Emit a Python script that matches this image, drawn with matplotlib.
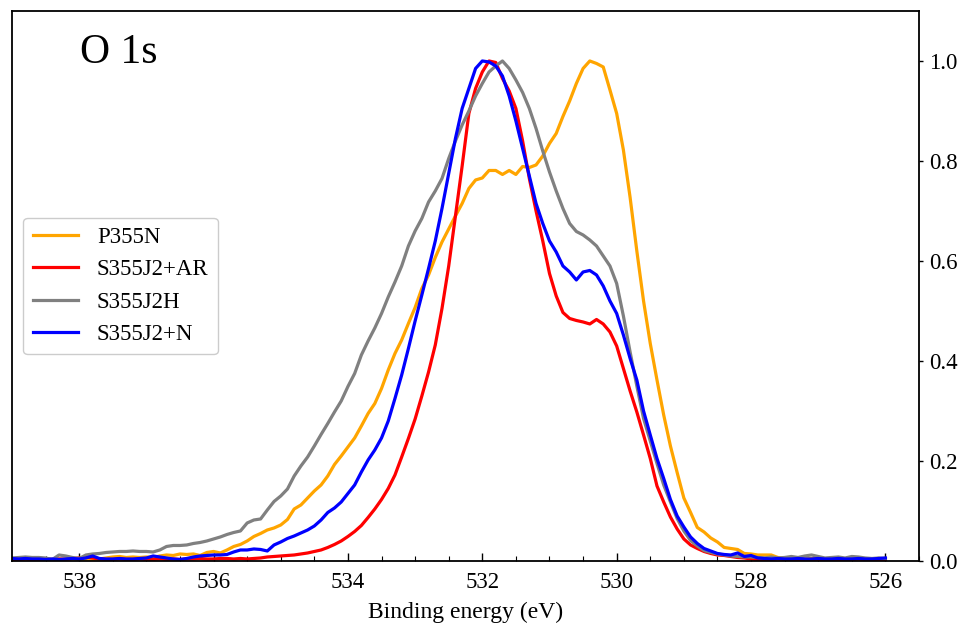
import numpy as np
import matplotlib
matplotlib.use("Agg")
import matplotlib.pyplot as plt
from matplotlib.ticker import MultipleLocator

plt.rcParams['font.family'] = ['Liberation Serif', 'DejaVu Serif']

# Binding energy grid (eV), 0.1 eV steps from 539.0 down to 526.0
energy = np.round(np.linspace(539.0, 526.0, 131), 1)

p355n = [
    0.003,0.003,0.004,0.003,0.003,0.004,0.003,0.003,0.004,0.004,
    0.003,0.003,0.003,0.004,0.006,0.008,0.009,0.007,0.008,0.007,
    0.008,0.007,0.010,0.012,0.011,0.014,0.013,0.014,0.011,0.017,
    0.019,0.016,0.022,0.029,0.033,0.040,0.049,0.055,0.062,0.066,
    0.072,0.083,0.104,0.112,0.126,0.140,0.152,0.170,0.193,0.210,
    0.228,0.246,0.270,0.295,0.315,0.345,0.382,0.415,0.442,0.475,
    0.507,0.545,0.572,0.607,0.638,0.664,0.690,0.715,0.745,0.762,
    0.766,0.781,0.781,0.773,0.781,0.773,0.789,0.787,0.792,0.810,
    0.835,0.855,0.889,0.920,0.955,0.985,1.000,0.995,0.988,0.942,
    0.895,0.822,0.727,0.620,0.520,0.435,0.362,0.292,0.230,0.177,
    0.126,0.097,0.067,0.058,0.046,0.038,0.027,0.025,0.023,0.015,
    0.014,0.012,0.012,0.012,0.007,0.006,0.005,0.005,0.004,0.005,
    0.004,0.004,0.005,0.004,0.004,0.005,0.004,0.004,0.004,0.005,
    0.004,
]

s355j2_ar = [
    0.003,0.003,0.004,0.003,0.002,0.003,0.003,0.004,0.003,0.005,
    0.006,0.008,0.006,0.004,0.003,0.003,0.004,0.003,0.003,0.004,
    0.003,0.003,0.004,0.003,0.004,0.003,0.004,0.004,0.005,0.004,
    0.004,0.005,0.005,0.004,0.005,0.004,0.005,0.006,0.008,0.009,
    0.010,0.011,0.012,0.014,0.016,0.019,0.022,0.027,0.033,0.040,
    0.049,0.059,0.071,0.087,0.104,0.123,0.145,0.172,0.208,0.245,
    0.284,0.330,0.378,0.432,0.505,0.590,0.690,0.790,0.895,0.945,
    0.978,1.000,0.997,0.965,0.940,0.905,0.840,0.765,0.700,0.640,
    0.575,0.530,0.497,0.485,0.481,0.478,0.474,0.483,0.474,0.458,
    0.430,0.385,0.340,0.298,0.252,0.205,0.150,0.118,0.088,0.064,
    0.044,0.032,0.025,0.019,0.015,0.012,0.011,0.009,0.007,0.006,
    0.004,0.003,0.003,0.003,0.004,0.003,0.003,0.003,0.002,0.003,
    0.003,0.003,0.002,0.003,0.003,0.003,0.004,0.003,0.003,0.003,
    0.003,
]

s355j2h = [
    0.006,0.007,0.008,0.007,0.007,0.006,0.003,0.012,0.010,0.007,
    0.005,0.012,0.014,0.015,0.017,0.018,0.019,0.019,0.020,0.019,
    0.019,0.018,0.022,0.029,0.031,0.031,0.032,0.035,0.037,0.040,
    0.044,0.048,0.053,0.057,0.060,0.076,0.082,0.084,0.102,0.119,
    0.130,0.144,0.170,0.190,0.208,0.230,0.253,0.275,0.298,0.320,
    0.349,0.375,0.412,0.440,0.466,0.495,0.528,0.558,0.590,0.630,
    0.660,0.685,0.718,0.740,0.765,0.805,0.840,0.872,0.900,0.930,
    0.955,0.978,0.990,1.000,0.985,0.962,0.937,0.905,0.865,0.820,
    0.778,0.740,0.705,0.675,0.659,0.652,0.642,0.630,0.610,0.590,
    0.555,0.490,0.418,0.350,0.285,0.240,0.195,0.152,0.118,0.085,
    0.060,0.041,0.030,0.021,0.017,0.014,0.012,0.010,0.009,0.008,
    0.008,0.007,0.006,0.008,0.006,0.007,0.009,0.007,0.010,0.012,
    0.009,0.006,0.007,0.008,0.006,0.009,0.008,0.006,0.005,0.006,
    0.005,
]

s355j2_n = [
    0.005,0.004,0.005,0.004,0.004,0.003,0.004,0.003,0.004,0.005,
    0.004,0.006,0.010,0.005,0.004,0.004,0.005,0.004,0.004,0.005,
    0.006,0.010,0.008,0.006,0.004,0.003,0.005,0.008,0.010,0.011,
    0.012,0.012,0.013,0.018,0.022,0.022,0.024,0.023,0.020,0.032,
    0.038,0.045,0.050,0.056,0.062,0.070,0.082,0.097,0.106,0.118,
    0.135,0.152,0.178,0.202,0.222,0.246,0.280,0.325,0.372,0.425,
    0.480,0.532,0.585,0.640,0.705,0.775,0.845,0.905,0.945,0.985,
    1.000,0.998,0.990,0.970,0.930,0.880,0.825,0.770,0.715,0.675,
    0.640,0.618,0.590,0.578,0.562,0.578,0.581,0.572,0.550,0.520,
    0.495,0.452,0.405,0.362,0.300,0.252,0.205,0.165,0.123,0.090,
    0.068,0.048,0.035,0.025,0.020,0.015,0.013,0.012,0.016,0.009,
    0.011,0.006,0.005,0.004,0.005,0.004,0.004,0.005,0.004,0.004,
    0.005,0.004,0.004,0.005,0.004,0.004,0.005,0.004,0.004,0.005,
    0.006,
]

labels = ["P355N", "S355J2+AR", "S355J2H", "S355J2+N"]
colors = ["orange", "red", "gray", "blue"]
series = [p355n, s355j2_ar, s355j2h, s355j2_n]

xticks = [538, 536, 534, 532, 530, 528, 526]
yticks = [0.0, 0.2, 0.4, 0.6, 0.8, 1.0]

fig = plt.figure(figsize=(9.62, 6.27), dpi=100)
ax = fig.add_axes([0.0125, 0.1053, 0.9428, 0.8772])

for y, lab, c in zip(series, labels, colors):
    ax.plot(energy, y, color=c, lw=2.3, label=lab)

ax.set_xlim(539.0, 525.5)
ax.set_ylim(0, 1.1)
ax.set_xticks(xticks)
ax.set_xticklabels([str(t) for t in xticks])
ax.xaxis.set_minor_locator(MultipleLocator(0.5))
ax.set_yticks(yticks)
ax.set_yticklabels([f"{t:.1f}" for t in yticks])
ax.yaxis.tick_right()
ax.tick_params(axis='x', which='major', direction='in', length=5.5, width=1.0,
               labelsize=16.5, pad=8)
ax.tick_params(axis='x', which='minor', direction='in', length=3.5, width=0.8)
ax.tick_params(axis='y', which='major', direction='out', length=3, width=1.0,
               labelsize=16.5, pad=4)
for s in ax.spines.values():
    s.set_linewidth(1.3)

ax.set_xlabel("Binding energy (eV)", fontsize=17, labelpad=6)
ax.text(0.075, 0.905, "O 1s", transform=ax.transAxes, fontsize=30,
        ha='left', va='baseline')

ax.legend(loc='center left', fontsize=16.5, frameon=True, fancybox=True,
          edgecolor='#cccccc', framealpha=1.0)

fig.savefig("out.png", dpi=100)
